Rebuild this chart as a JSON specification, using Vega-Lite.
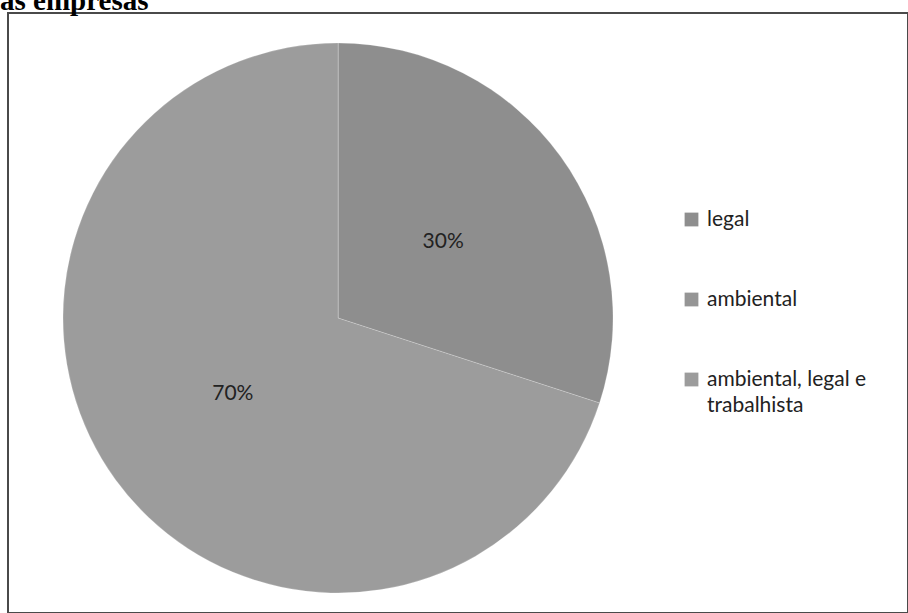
{
  "$schema": "https://vega.github.io/schema/vega-lite/v6.json",
  "width": 900,
  "height": 600,
  "padding": {"left": 8, "top": 13, "right": 0, "bottom": 0},
  "autosize": {"type": "none"},
  "background": "white",
  "title": {
    "text": "as empresas",
    "anchor": "start",
    "frame": "group",
    "font": "Liberation Serif",
    "fontSize": 29,
    "fontWeight": "bold",
    "color": "black",
    "offset": 2,
    "dx": -8,
    "dy": 5
  },
  "config": {
    "view": {"stroke": "#4a4a4a", "strokeWidth": 2},
    "style": {"guide-label": {"lineHeight": 26}}
  },
  "data": {
    "values": [
      {"categoria": "legal", "valor": 30, "rotulo": "30%"},
      {"categoria": "ambiental", "valor": 0, "rotulo": ""},
      {"categoria": "ambiental, legal e trabalhista", "valor": 70, "rotulo": "70%"}
    ]
  },
  "encoding": {
    "theta": {"field": "valor", "type": "quantitative", "stack": true},
    "x": {"value": 330},
    "y": {"value": 305}
  },
  "layer": [
    {
      "mark": {"type": "arc", "radius": 275, "stroke": "#ffffff", "strokeWidth": 0.5, "strokeOpacity": 0.4},
      "encoding": {
        "color": {
          "field": "categoria",
          "type": "nominal",
          "sort": ["legal", "ambiental", "ambiental, legal e trabalhista"],
          "scale": {
            "domain": ["legal", "ambiental", "ambiental, legal e trabalhista"],
            "range": ["#8e8e8e", "#959595", "#9c9c9c"]
          },
          "legend": {
            "title": null,
            "orient": "none",
            "legendX": 673,
            "legendY": 196,
            "symbolType": "square",
            "symbolSize": 190,
            "symbolStrokeWidth": 0,
            "labelFont": "Lato",
            "labelFontSize": 21,
            "labelColor": "#222222",
            "labelOffset": 5,
            "rowPadding": 58,
            "labelLimit": 300,
            "labelExpr": "datum.label == 'ambiental, legal e trabalhista' ? ['ambiental, legal e', 'trabalhista'] : datum.label"
          }
        },
        "order": {"field": "valor", "type": "quantitative", "sort": "ascending"}
      }
    },
    {
      "mark": {"type": "text", "radius": 130, "font": "Lato", "fontSize": 21, "color": "#222222"},
      "encoding": {
        "text": {"field": "rotulo"},
        "order": {"field": "valor", "type": "quantitative", "sort": "ascending"}
      }
    }
  ]
}
